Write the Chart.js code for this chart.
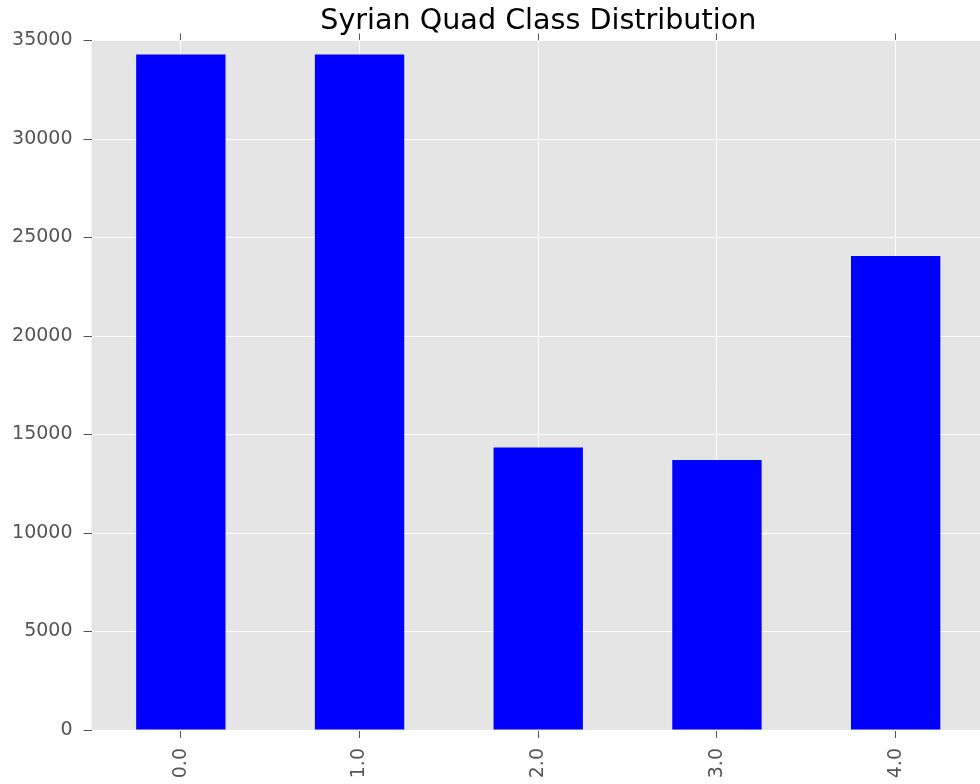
<!DOCTYPE html>
<html>
<head>
<meta charset="utf-8">
<script src="https://cdn.jsdelivr.net/npm/chart.js@4.4.1/dist/chart.umd.min.js"></script>
<style>
  html, body { margin: 0; padding: 0; background: #ffffff; overflow: hidden; }
  #wrap { width: 985px; height: 784px; }
</style>
</head>
<body>
<div id="wrap"><canvas id="c" width="985" height="784"></canvas></div>
<script>
const categories = ["0.0", "1.0", "2.0", "3.0", "4.0"];
const counts = [34290, 34290, 14340, 13710, 24060];
const yTicks = [0, 5000, 10000, 15000, 20000, 25000, 30000, 35000];
const titleText = "Syrian Quad Class Distribution";

const FONT = "'DejaVu Sans', 'Liberation Sans', sans-serif";

const plotBg = {
  id: 'plotBg',
  beforeDraw(chart) {
    const a = chart.chartArea, ctx = chart.ctx;
    ctx.save();
    ctx.fillStyle = '#e5e5e5';
    ctx.fillRect(a.left, a.top, a.right - a.left, a.bottom - a.top);
    ctx.restore();
  }
};

new Chart(document.getElementById('c'), {
  type: 'bar',
  data: {
    labels: categories,
    datasets: [{
      data: counts,
      backgroundColor: '#0000ff',
      borderWidth: 0,
      barPercentage: 0.5,
      categoryPercentage: 1.0,
      xAxisID: 'x',
      yAxisID: 'y'
    }]
  },
  options: {
    responsive: false,
    animation: false,
    layout: { padding: { left: 0, right: 0, top: 0, bottom: 0 } },
    plugins: {
      legend: { display: false },
      tooltip: { enabled: false },
      title: {
        display: true,
        text: titleText,
        fullSize: false,
        color: '#000000',
        font: { family: FONT, size: 28.6, weight: 'normal', lineHeight: 1.0 },
        padding: { top: 7, bottom: 0 }
      }
    },
    scales: {
      x: {
        type: 'category',
        position: 'bottom',
        offset: true,
        grid: {
          display: true,
          offset: false,
          color: '#ffffff',
          lineWidth: 1,
          tickColor: '#555555',
          tickLength: 8,
          drawOnChartArea: true
        },
        border: { display: false },
        ticks: {
          color: '#555555',
          font: { family: FONT, size: 19 },
          minRotation: 90,
          maxRotation: 90,
          padding: 10,
          autoSkip: false
        },
        afterFit(scale) { scale.height = 54; }
      },
      x2: {
        type: 'category',
        position: 'top',
        offset: true,
        grid: {
          display: true,
          offset: false,
          color: '#ffffff',
          tickColor: '#555555',
          tickLength: 7,
          drawOnChartArea: false
        },
        border: { display: false },
        ticks: { display: false },
        afterFit(scale) { scale.height = 4.9; }
      },
      y: {
        type: 'linear',
        position: 'left',
        min: 0,
        max: 35000,
        afterBuildTicks(scale) { scale.ticks = yTicks.map(v => ({ value: v })); },
        grid: {
          color: '#ffffff',
          lineWidth: 1,
          tickColor: '#555555',
          tickLength: 8
        },
        border: { display: false },
        ticks: {
          color: '#555555',
          font: { family: FONT, size: 19 },
          padding: 11,
          callback: (v) => String(v)
        },
        afterFit(scale) { scale.width = 91.5; }
      }
    }
  },
  plugins: [plotBg]
});
</script>
</body>
</html>
